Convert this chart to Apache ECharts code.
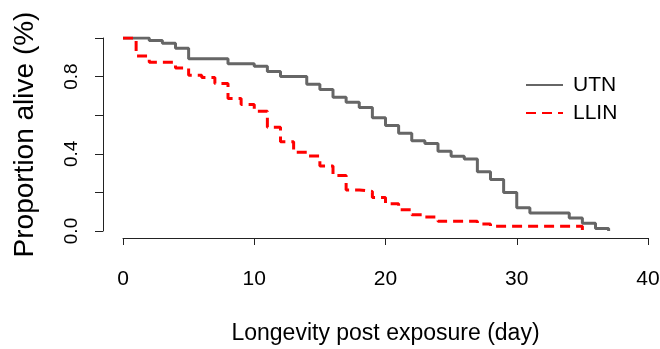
<!DOCTYPE html>
<html>
<head>
<meta charset="utf-8">
<script src="https://cdn.jsdelivr.net/npm/echarts@6/dist/echarts.min.js"></script>
<style>
html,body{margin:0;padding:0;background:#fff;}
#chart{width:660px;height:349px;}
</style>
</head>
<body>
<div id="chart"></div>
<script>
// Survival data: [day, proportion alive]
var utnDays = [0, 2, 3, 4, 5, 8, 10, 11, 12, 14, 15, 16, 17, 18, 19, 20, 21, 22, 23, 24, 25, 26, 27, 28, 29, 30, 31, 34, 35, 36, 37];
var utnSurv = [1.0, 0.987, 0.973, 0.947, 0.893, 0.867, 0.853, 0.827, 0.800, 0.760, 0.733, 0.693, 0.667, 0.640, 0.587, 0.547, 0.507, 0.467, 0.453, 0.413, 0.387, 0.373, 0.307, 0.267, 0.200, 0.120, 0.093, 0.067, 0.040, 0.013, 0.0];
var llinDays = [0, 1, 2, 4, 5, 6, 7, 8, 9, 10, 11, 12, 13, 14, 15, 16, 17, 18, 19, 20, 21, 22, 23, 24, 27, 28, 35];
var llinSurv = [1.0, 0.907, 0.875, 0.845, 0.807, 0.795, 0.764, 0.687, 0.656, 0.621, 0.538, 0.463, 0.408, 0.389, 0.337, 0.287, 0.213, 0.205, 0.174, 0.141, 0.110, 0.084, 0.072, 0.050, 0.036, 0.024, 0.0];
var seriesNames = ['UTN', 'LLIN'];
var xTicks = [0, 10, 20, 30, 40];
var yLabelValues = [0.0, 0.4, 0.8];

function pairs(xs, ys) { return xs.map(function (x, i) { return [x, ys[i]]; }); }

var font = "'Liberation Sans', Arial, sans-serif";
var axisColor = '#222';

var chart = echarts.init(document.getElementById('chart'), null, {renderer: 'canvas'});
chart.setOption({
  animation: false,
  backgroundColor: '#fff',
  grid: {left: 123, right: 12, top: 38, bottom: 118, containLabel: false, outerBoundsMode: 'none'},
  legend: {
    orient: 'vertical',
    left: 520, top: 69,
    itemWidth: 37, itemHeight: 14, itemGap: 6,
    data: seriesNames,
    itemStyle: {opacity: 0},
    textStyle: {fontFamily: font, fontSize: 21, color: '#000', lineHeight: 22, padding: [0, 0, 0, 5]}
  },
  xAxis: {
    type: 'value', min: xTicks[0], max: xTicks[xTicks.length - 1], interval: 10,
    offset: 7,
    name: 'Longevity post exposure (day)', nameLocation: 'middle', nameGap: 84,
    nameTextStyle: {fontFamily: font, fontSize: 23, color: '#000'},
    axisLine: {show: true, onZero: false, lineStyle: {color: axisColor, width: 1}},
    axisTick: {show: true, inside: false, length: 7, lineStyle: {color: axisColor}},
    axisLabel: {margin: 31, fontFamily: font, fontSize: 21, color: '#000'},
    splitLine: {show: false}
  },
  yAxis: {
    type: 'value', min: 0, max: 1, interval: 0.2,
    offset: 20,
    name: 'Proportion alive (%)', nameLocation: 'middle', nameGap: 64,
    nameTextStyle: {fontFamily: font, fontSize: 28, color: '#000'},
    axisLine: {show: true, onZero: false, lineStyle: {color: axisColor, width: 1}},
    axisTick: {show: true, inside: false, length: 8, lineStyle: {color: axisColor}},
    axisLabel: {
      rotate: 90, margin: 22, fontFamily: font, fontSize: 19, color: '#000',
      formatter: function (v) {
        for (var i = 0; i < yLabelValues.length; i++) {
          if (Math.abs(v - yLabelValues[i]) < 1e-9) return v.toFixed(1);
        }
        return '';
      }
    },
    splitLine: {show: false}
  },
  series: [
    {
      name: seriesNames[0], type: 'line', step: 'end', symbol: 'none', showSymbol: false,
      data: pairs(utnDays, utnSurv),
      lineStyle: {color: '#666666', width: 3, type: 'solid'},
      itemStyle: {color: '#666666'}
    },
    {
      name: seriesNames[1], type: 'line', step: 'end', symbol: 'none', showSymbol: false,
      data: pairs(llinDays, llinSurv),
      lineStyle: {color: '#ff0000', width: 3, type: [10, 6]},
      itemStyle: {color: '#ff0000'}
    }
  ]
});
</script>
</body>
</html>
